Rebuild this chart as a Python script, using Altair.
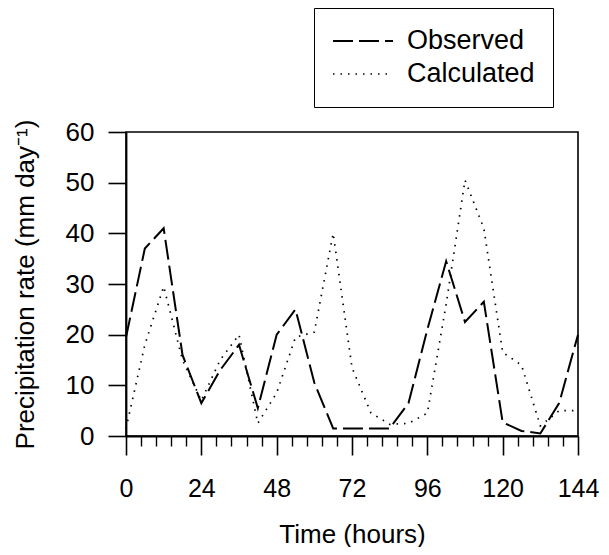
import altair as alt
import pandas as pd

# ---- data ----
hours = [0, 6, 12, 18, 24, 30, 36, 42, 48, 54, 60, 66, 72,
         78, 84, 90, 96, 102, 108, 114, 120, 126, 132, 138, 144]
observed = [19.5, 37, 41, 16, 6.5, 13, 18, 5.5, 20, 25, 10.5, 1.5, 1.5,
            1.5, 1.5, 6.5, 21, 34.5, 22.5, 26.5, 2.7, 1, 0.5, 6.5, 20]
calculated = [1.5, 18, 29.5, 15, 7, 15, 20, 2.5, 8.5, 19.5, 20.5, 40, 13.5,
              4.6, 2.3, 2.5, 4.5, 26, 50.5, 41, 16.5, 14, 2, 5, 5]
series_names = ["Observed", "Calculated"]
x_major = [0, 24, 48, 72, 96, 120, 144]
x_minor = [round(i * 4.8, 1) for i in range(31) if i % 5]
y_ticks = [0, 10, 20, 30, 40, 50, 60]

rows = []
for h, o, c in zip(hours, observed, calculated):
    rows.append({"hour": h, "rate": o, "series": "Observed"})
    rows.append({"hour": h, "rate": c, "series": "Calculated"})
df = pd.DataFrame(rows)

FONT = "Liberation Sans"
x_scale = alt.Scale(domain=[0, 144], nice=False, zero=False)
y_scale = alt.Scale(domain=[0, 60], nice=False)

lines = alt.Chart(df).mark_line(color="black", strokeCap="butt").encode(
    x=alt.X("hour:Q", scale=x_scale,
            axis=alt.Axis(values=x_major, tickSize=19, title="Time (hours)",
                          orient="bottom", grid=False, labelPadding=21,
                          titlePadding=20, domainColor="black", domainWidth=1.8,
                          tickColor="black", tickWidth=1.6, labelFontSize=25,
                          titleFontSize=26, labelFont=FONT, titleFont=FONT,
                          titleFontWeight="normal", labelColor="black",
                          titleColor="black", labelFlush=False)),
    y=alt.Y("rate:Q", scale=y_scale,
            axis=alt.Axis(values=y_ticks, tickSize=18,
                          title="Precipitation rate (mm day⁻¹)",
                          grid=False, labelPadding=14, titlePadding=27,
                          domainColor="black", domainWidth=1.8,
                          tickColor="black", tickWidth=1.6, labelFontSize=26,
                          titleFontSize=26, labelFont=FONT, titleFont=FONT,
                          titleFontWeight="normal", labelColor="black",
                          titleColor="black")),
    strokeDash=alt.StrokeDash(
        "series:N",
        scale=alt.Scale(domain=series_names, range=[[20, 6], [1.5, 6]]),
        legend=alt.Legend(title=None, orient="none", legendX=188, legendY=-124,
                          strokeColor="black", fillColor="white", padding=18,
                          labelFontSize=27, labelFont=FONT, labelColor="black",
                          symbolType="stroke", symbolSize=3600,
                          symbolStrokeWidth=1.8, symbolStrokeColor="black",
                          labelOffset=13, rowPadding=3, clipHeight=30)),
    strokeWidth=alt.StrokeWidth(
        "series:N", scale=alt.Scale(domain=series_names, range=[2, 1.7]),
        legend=None),
)

minor = alt.Chart(df).mark_line(strokeOpacity=0).encode(
    x=alt.X("hour:Q", scale=x_scale,
            axis=alt.Axis(values=x_minor, tickSize=10, labels=False,
                          domain=False, title=None, grid=False,
                          orient="bottom", tickColor="black", tickWidth=1.4)),
    y=alt.Y("rate:Q", scale=y_scale, axis=None),
    detail="series:N",
)

chart = (
    alt.layer(lines, minor)
    .resolve_axis(x="independent", y="independent")
    .properties(width=452, height=304,
                padding={"left": 118, "top": 124, "right": 23, "bottom": 111},
                autosize=alt.AutoSizeParams(type="none"))
    .configure(background="white",
               view=alt.ViewConfig(stroke="black", strokeWidth=1.6))
)

chart.save("out.html", embed_options={"renderer": "svg", "actions": False})
